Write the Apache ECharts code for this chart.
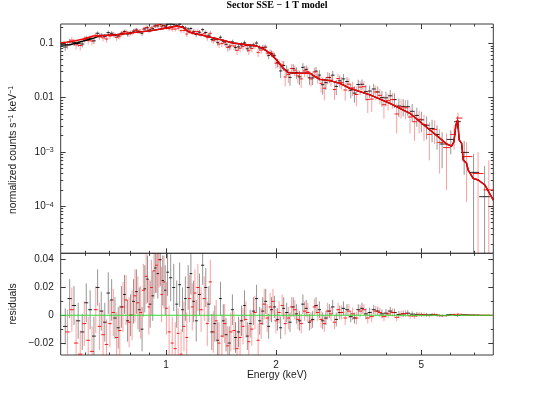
<!DOCTYPE html>
<html>
<head>
<meta charset="utf-8">
<title>Sector SSE - 1 T model</title>
<script src="https://cdn.jsdelivr.net/npm/echarts@6.0.0/dist/echarts.min.js"></script>
<style>
html, body { margin: 0; padding: 0; background: #fff; }
#chart { width: 551px; height: 409px; }
</style>
</head>
<body>
<div id="chart"></div>
<script>
// axis limits
const xMin = 0.515, xMax = 7.87;
const specMin = 1.36e-5, specMax = 0.2266;
const resMin = -0.0286, resMax = 0.0446;

// tick positions
const xMajor = [1, 2, 5];
const xMinor = [0.6, 0.7, 0.8, 0.9, 3, 4, 6, 7];
const specMajor = [1e-4, 1e-3, 1e-2, 1e-1];
const specMinor = [2e-5, 3e-5, 4e-5, 5e-5, 6e-5, 7e-5, 8e-5, 9e-5,
    2e-4, 3e-4, 4e-4, 5e-4, 6e-4, 7e-4, 8e-4, 9e-4,
    0.002, 0.003, 0.004, 0.005, 0.006, 0.007, 0.008, 0.009,
    0.02, 0.03, 0.04, 0.05, 0.06, 0.07, 0.08, 0.09, 0.2];
const resMajor = [-0.02, 0, 0.02, 0.04];
const resMinor = [-0.01, 0.01, 0.03];

// black spectrum (keV, counts/s/keV, 1 sigma, residual)
const blackE = [
    0.53, 0.545, 0.56, 0.575, 0.59, 0.605, 0.62, 0.635,
    0.65, 0.665, 0.68, 0.695, 0.71, 0.725, 0.74, 0.755,
    0.77, 0.785, 0.80, 0.815, 0.83, 0.845, 0.86, 0.875,
    0.89, 0.905, 0.92, 0.935, 0.95, 0.965, 0.98, 0.995,
    1.01, 1.03, 1.05, 1.07, 1.09, 1.11, 1.13, 1.15,
    1.17, 1.19, 1.21, 1.235, 1.26, 1.285, 1.31, 1.335,
    1.36, 1.385, 1.41, 1.435, 1.46, 1.49, 1.52, 1.55,
    1.58, 1.61, 1.64, 1.67, 1.70, 1.735, 1.77, 1.805,
    1.84, 1.875, 1.91, 1.945, 1.98, 2.02, 2.06, 2.10,
    2.14, 2.185, 2.23, 2.275, 2.32, 2.37, 2.42, 2.47,
    2.52, 2.575, 2.63, 2.685, 2.74, 2.80, 2.86, 2.925,
    2.99, 3.06, 3.13, 3.205, 3.28, 3.36, 3.44, 3.525,
    3.61, 3.705, 3.80, 3.90, 4.00, 4.11, 4.22, 4.34,
    4.46, 4.59, 4.72, 4.86, 5.00, 5.17, 5.35, 5.52,
    5.70, 6.02, 6.28, 6.55, 6.95, 7.45];
const blackRate = [
    0.0855, 0.1065, 0.104, 0.099, 0.097, 0.124, 0.124, 0.111,
    0.153, 0.141, 0.135, 0.157, 0.153, 0.141, 0.136, 0.153,
    0.165, 0.148, 0.155, 0.167, 0.176, 0.165, 0.153, 0.184,
    0.193, 0.177, 0.186, 0.209, 0.209, 0.222, 0.211, 0.207,
    0.224, 0.225, 0.223, 0.215, 0.225, 0.203, 0.192, 0.184,
    0.187, 0.163, 0.145, 0.160, 0.178, 0.158, 0.141, 0.117,
    0.119, 0.103, 0.129, 0.109, 0.096, 0.086, 0.106, 0.084,
    0.086, 0.093, 0.102, 0.079, 0.086, 0.093, 0.101, 0.082,
    0.084, 0.085, 0.060, 0.065, 0.059, 0.044, 0.031, 0.039,
    0.032, 0.0236, 0.0343, 0.0291, 0.0241, 0.0361, 0.0331, 0.0231,
    0.023, 0.0307, 0.026, 0.0173, 0.0189, 0.0235, 0.0259, 0.0161,
    0.0204, 0.0221, 0.0198, 0.0137, 0.0121, 0.0174, 0.0176, 0.0129,
    0.0132, 0.0144, 0.0127, 0.0100, 0.0099, 0.0108, 0.0092, 0.0070,
    0.0069, 0.0068, 0.0056, 0.0047, 0.0039, 0.0031, 0.0027, 0.0021,
    0.0014, 0.0017, 0.0036, 0.00098, 0.00042, 0.00015];
const blackErr = [
    0.013, 0.014, 0.014, 0.013, 0.013, 0.014, 0.014, 0.014,
    0.013, 0.014, 0.014, 0.015, 0.015, 0.015, 0.015, 0.015,
    0.014, 0.015, 0.015, 0.016, 0.016, 0.016, 0.016, 0.017,
    0.017, 0.017, 0.018, 0.018, 0.018, 0.019, 0.018, 0.018,
    0.017, 0.017, 0.017, 0.017, 0.016, 0.016, 0.016, 0.016,
    0.015, 0.015, 0.015, 0.015, 0.014, 0.014, 0.013, 0.013,
    0.013, 0.013, 0.012, 0.012, 0.012, 0.012, 0.011, 0.011,
    0.011, 0.011, 0.011, 0.010, 0.010, 0.010, 0.010, 0.010,
    0.010, 0.009, 0.009, 0.009, 0.008, 0.008, 0.008, 0.008,
    0.007, 0.007, 0.007, 0.007, 0.007, 0.007, 0.006, 0.006,
    0.006, 0.006, 0.006, 0.006, 0.005, 0.005, 0.005, 0.005,
    0.005, 0.005, 0.004, 0.004, 0.004, 0.004, 0.004, 0.004,
    0.0035, 0.0035, 0.0032, 0.0032, 0.003, 0.003, 0.0028, 0.0026,
    0.0024, 0.0022, 0.002, 0.0018, 0.0016, 0.0014, 0.0012, 0.001,
    0.0009, 0.0008, 0.0009, 0.0006, 0.0005, 0.0004];
const blackResid = [
    -0.008, 0.012, 0.007, -0.004, -0.012, 0.009, 0.004, -0.015,
    0.020, 0.003, -0.005, 0.016, 0.011, -0.002, -0.009, 0.006,
    0.015, -0.004, 0.0, 0.010, 0.017, 0.004, -0.010, 0.019,
    0.026, 0.008, 0.014, 0.034, 0.030, 0.040, 0.025, 0.018,
    0.031, 0.027, 0.020, 0.008, 0.022, 0.004, 0.012, 0.020,
    0.030, 0.010, -0.004, 0.015, 0.036, 0.020, 0.008, -0.012,
    -0.006, -0.018, 0.012, -0.004, -0.014, -0.020, 0.004, -0.016,
    -0.012, -0.004, 0.007, -0.015, -0.006, 0.003, 0.012, -0.004,
    0.003, 0.010, -0.008, 0.004, 0.006, -0.003, -0.009, 0.005,
    0.002, -0.005, 0.006, 0.001, -0.004, 0.008, 0.005, -0.005,
    -0.003, 0.007, 0.004, -0.004, -0.002, 0.003, 0.006, -0.003,
    0.002, 0.005, 0.004, -0.001, -0.002, 0.004, 0.005, 0.001,
    0.002, 0.004, 0.003, 0.001, 0.0015, 0.003, 0.002, 0.0005,
    0.001, 0.0015, 0.0008, 0.0006, 0.0005, 0.0003, 0.0004, 0.0001,
    -0.0003, 0.0004, -0.0002, 0.0003, 0.0001, -0.0001];

// red spectrum
const redE = [
    0.5375, 0.5525, 0.5675, 0.5825, 0.5975, 0.6125, 0.6275, 0.6425,
    0.6575, 0.6725, 0.6875, 0.7025, 0.7175, 0.7325, 0.7475, 0.7625,
    0.7775, 0.7925, 0.8075, 0.8225, 0.8375, 0.8525, 0.8675, 0.8825,
    0.8975, 0.9125, 0.9275, 0.9425, 0.9575, 0.9725, 0.9875, 1.0025,
    1.02, 1.04, 1.06, 1.08, 1.10, 1.12, 1.14, 1.16,
    1.18, 1.20, 1.2225, 1.2475, 1.2725, 1.2975, 1.3225, 1.3475,
    1.3725, 1.3975, 1.4225, 1.4475, 1.475, 1.505, 1.535, 1.565,
    1.595, 1.625, 1.655, 1.685, 1.7175, 1.7525, 1.7875, 1.8225,
    1.8575, 1.8925, 1.9275, 1.9625, 2.00, 2.04, 2.08, 2.12,
    2.1625, 2.2075, 2.2525, 2.2975, 2.345, 2.395, 2.445, 2.495,
    2.5475, 2.6025, 2.6575, 2.7125, 2.77, 2.83, 2.8925, 2.9575,
    3.025, 3.095, 3.1675, 3.2425, 3.32, 3.40, 3.4825, 3.5675,
    3.6575, 3.7525, 3.85, 3.95, 4.055, 4.165, 4.28, 4.40,
    4.525, 4.655, 4.79, 4.93, 5.085, 5.26, 5.435, 5.61,
    5.86, 6.15, 6.30, 6.65, 7.15, 7.65];
const redRate = [
    0.094, 0.114, 0.094, 0.091, 0.119, 0.112, 0.110, 0.141,
    0.131, 0.126, 0.120, 0.136, 0.145, 0.129, 0.136, 0.156,
    0.163, 0.150, 0.157, 0.173, 0.170, 0.165, 0.183, 0.195,
    0.175, 0.192, 0.207, 0.215, 0.222, 0.201, 0.213, 0.198,
    0.186, 0.183, 0.183, 0.190, 0.171, 0.172, 0.148, 0.169,
    0.159, 0.165, 0.165, 0.146, 0.150, 0.127, 0.153, 0.113,
    0.117, 0.097, 0.099, 0.104, 0.084, 0.090, 0.089, 0.074,
    0.081, 0.087, 0.091, 0.073, 0.080, 0.091, 0.068, 0.075,
    0.084, 0.066, 0.068, 0.063, 0.043, 0.042, 0.040, 0.024,
    0.0266, 0.0343, 0.0321, 0.0251, 0.0221, 0.0311, 0.0301, 0.022,
    0.0297, 0.024, 0.0183, 0.0149, 0.0235, 0.0209, 0.0141, 0.0224,
    0.0191, 0.0138, 0.0177, 0.0151, 0.0114, 0.0156, 0.0159, 0.0092,
    0.0094, 0.0127, 0.011, 0.0074, 0.0088, 0.0092, 0.005, 0.0067,
    0.0065, 0.0044, 0.0036, 0.0040, 0.0032, 0.0021, 0.0026, 0.0015,
    0.0012, 0.0021, 0.0042, 0.00082, 0.0004, 0.0002];
const redErr = [
    0.016, 0.016, 0.017, 0.017, 0.016, 0.017, 0.018, 0.017,
    0.017, 0.018, 0.018, 0.017, 0.017, 0.018, 0.018, 0.018,
    0.018, 0.018, 0.018, 0.019, 0.019, 0.019, 0.019, 0.020,
    0.020, 0.020, 0.020, 0.020, 0.020, 0.020, 0.019, 0.019,
    0.019, 0.019, 0.019, 0.018, 0.018, 0.018, 0.018, 0.017,
    0.017, 0.017, 0.017, 0.016, 0.016, 0.016, 0.016, 0.015,
    0.015, 0.015, 0.015, 0.014, 0.014, 0.014, 0.014, 0.013,
    0.013, 0.013, 0.013, 0.012, 0.012, 0.012, 0.012, 0.011,
    0.011, 0.010, 0.010, 0.009, 0.009, 0.008, 0.008, 0.008,
    0.008, 0.007, 0.007, 0.007, 0.007, 0.007, 0.007, 0.006,
    0.006, 0.006, 0.006, 0.006, 0.006, 0.005, 0.005, 0.005,
    0.005, 0.005, 0.005, 0.0045, 0.0045, 0.0045, 0.004, 0.004,
    0.004, 0.0038, 0.0035, 0.0033, 0.003, 0.003, 0.0028, 0.0026,
    0.0025, 0.0022, 0.002, 0.0018, 0.0016, 0.0014, 0.0012, 0.0011,
    0.001, 0.001, 0.0011, 0.0007, 0.0006, 0.0005];
const redResid = [
    -0.012, 0.004, -0.020, -0.028, -0.006, -0.018, -0.026, 0.004,
    -0.008, -0.014, -0.021, -0.006, 0.002, -0.016, -0.011, 0.006,
    0.011, -0.005, 0.0, 0.014, 0.009, 0.002, 0.018, 0.028,
    0.006, 0.020, 0.032, 0.036, 0.040, 0.015, 0.024, 0.005,
    -0.012, -0.020, -0.024, -0.013, -0.028, -0.008, -0.016, 0.012,
    0.006, 0.016, 0.020, 0.004, 0.012, -0.006, 0.024, -0.012,
    -0.004, -0.020, -0.015, -0.006, -0.022, -0.012, -0.011, -0.024,
    -0.016, -0.008, -0.003, -0.019, -0.010, 0.002, -0.018, -0.006,
    0.008, -0.002, 0.006, 0.010, -0.004, 0.002, 0.007, -0.006,
    -0.002, 0.006, 0.004, -0.003, -0.006, 0.003, 0.002, -0.004,
    0.006, 0.002, -0.003, -0.006, 0.003, 0.001, -0.005, 0.004,
    0.002, -0.002, 0.003, 0.001, -0.002, 0.003, 0.004, -0.002,
    -0.001, 0.003, 0.002, -0.001, 0.001, 0.002, -0.0015, 0.0008,
    0.0012, -0.0004, -0.0005, 0.0006, 0.0004, -0.0002, 0.0006, -0.0003,
    -0.0002, 0.0005, 0.0007, 0.0002, 0.0001, 0.0];

// folded 1T model curves
const modelE = [0.516, 0.546, 0.594, 0.632, 0.660, 0.733, 0.812, 0.904, 1.004, 1.070, 1.113, 1.149, 1.186, 1.239,
    1.435, 1.525, 1.645, 1.774, 1.843, 1.926, 2.009, 2.094, 2.161, 2.279, 2.479, 2.557, 2.639, 2.811, 2.994,
    3.188, 3.618, 4.102, 4.369, 4.653, 4.957, 5.279, 5.622, 5.865, 6.052, 6.140, 6.218, 6.284, 6.348, 6.445,
    6.510, 6.650, 6.718, 6.934, 7.156, 7.464, 7.87];
const blackModel = [0.093, 0.0942, 0.110, 0.1236, 0.138, 0.144, 0.157, 0.169, 0.191, 0.208, 0.197, 0.164, 0.153, 0.144,
    0.113, 0.1013, 0.095, 0.089, 0.080, 0.0655, 0.0493, 0.0346, 0.0288, 0.0281, 0.0281, 0.0243, 0.0217, 0.0205, 0.0183,
    0.0148, 0.0112, 0.00785, 0.00635, 0.00514, 0.0036, 0.00253, 0.00178, 0.0014, 0.00128, 0.00154, 0.00313, 0.00386, 0.00166, 0.00144,
    0.00071, 0.000616, 0.000464, 0.000327, 0.000304, 0.000246, 0.00013];
const redModel = [0.1026, 0.106, 0.120, 0.136, 0.138, 0.144, 0.157, 0.169, 0.191, 0.208, 0.197, 0.164, 0.153, 0.144,
    0.113, 0.1013, 0.095, 0.089, 0.080, 0.0655, 0.0493, 0.0346, 0.0288, 0.0281, 0.0281, 0.0243, 0.0217, 0.0205, 0.0183,
    0.0148, 0.0112, 0.00785, 0.00635, 0.00514, 0.0036, 0.00253, 0.00178, 0.0014, 0.00128, 0.00154, 0.00313, 0.00386, 0.00166, 0.00144,
    0.00071, 0.000616, 0.000464, 0.000327, 0.000304, 0.000246, 0.00013];

const frameColor = '#3a3a3a';
const textColor = '#1a1a1a';
const sans = '"Liberation Sans", Arial, sans-serif';

// [E, Elo, Ehi, y, ylo, yhi] per bin, bin edges half way to the neighbouring energies
function crosses(es, ys, errs) {
    return es.map(function (e, i) {
        const prev = i > 0 ? es[i - 1] : 2 * e - es[i + 1];
        const next = i < es.length - 1 ? es[i + 1] : 2 * e - es[i - 1];
        return [e, e - (e - prev) * 0.5, e + (next - e) * 0.5, ys[i], ys[i] - errs[i], ys[i] + errs[i]];
    });
}

function crossRenderer(color, barColor, lim) {
    return function (params, api) {
        const e = api.value(0), y = api.value(3);
        const lo = Math.max(api.value(1), xMin), hi = Math.min(api.value(2), xMax);
        const yl = Math.max(api.value(4), lim[0]), yh = Math.min(api.value(5), lim[1]);
        const children = [];
        if (yl < lim[1] && yh > lim[0]) {
            const t = api.coord([e, yh]), b = api.coord([e, yl]);
            children.push({ type: 'line', shape: { x1: t[0], y1: t[1], x2: b[0], y2: b[1] },
                style: { stroke: barColor, lineWidth: 1 } });
        }
        if (y > lim[0] && y < lim[1]) {
            const l = api.coord([lo, y]), r = api.coord([hi, y]);
            children.push({ type: 'line', shape: { x1: l[0], y1: l[1], x2: r[0], y2: r[1] },
                style: { stroke: color, lineWidth: 1 } });
        }
        return { type: 'group', children: children };
    };
}

function zip(a, b) {
    return a.map(function (v, i) { return [v, b[i]]; });
}

function xAxisDef(grid, pos, values, len, showLabel) {
    return {
        type: 'log', logBase: 10, gridIndex: grid, position: pos, min: xMin, max: xMax,
        axisLine: { show: false, onZero: false },
        splitLine: { show: false },
        axisTick: { show: true, inside: true, length: len, customValues: values,
            lineStyle: { color: frameColor, width: 1 } },
        axisLabel: showLabel ? { show: true, customValues: values, margin: 5, fontSize: 10,
            color: textColor, fontFamily: sans, formatter: function (v) { return String(v); } } : { show: false }
    };
}

function yAxisDef(grid, pos, type, min, max, values, len, formatter) {
    return {
        type: type, gridIndex: grid, position: pos, min: min, max: max,
        axisLine: { show: false, onZero: false },
        splitLine: { show: false },
        axisTick: { show: true, inside: true, length: len, customValues: values,
            lineStyle: { color: frameColor, width: 1 } },
        axisLabel: formatter ? { show: true, customValues: values, margin: 7, fontSize: 10,
            color: textColor, fontFamily: sans, formatter: formatter,
            rich: { b: { fontSize: 10, fontFamily: sans, color: textColor },
                    s: { fontSize: 7, fontFamily: sans, color: textColor, verticalAlign: 'top', lineHeight: 8 } } }
            : { show: false }
    };
}

function specLabel(v) {
    if (v >= 0.01) return String(v);
    return '{b|10}{s|\u2212' + Math.round(-Math.log10(v)) + '}';
}
function resLabel(v) {
    if (v === 0) return '0';
    return (v < 0 ? '\u2212' : '') + Math.abs(v).toFixed(2);
}

const chart = echarts.init(document.getElementById('chart'), null, { renderer: 'canvas' });

const option = {
    backgroundColor: '#ffffff',
    animation: false,
    grid: [
        { left: 60.7, top: 24, width: 432.6, height: 229.3, show: true, borderColor: frameColor, borderWidth: 1,
          backgroundColor: 'transparent', containLabel: false, outerBoundsMode: 'none' },
        { left: 60.7, top: 253.3, width: 432.6, height: 101.7, show: true, borderColor: frameColor, borderWidth: 1,
          backgroundColor: 'transparent', containLabel: false, outerBoundsMode: 'none' }
    ],
    xAxis: [
        xAxisDef(0, 'bottom', xMajor, 5, false),
        xAxisDef(0, 'bottom', xMinor, 2.5, false),
        xAxisDef(0, 'top', xMajor, 5, false),
        xAxisDef(0, 'top', xMinor, 2.5, false),
        xAxisDef(1, 'bottom', xMajor, 5, true),
        xAxisDef(1, 'bottom', xMinor, 2.5, false),
        xAxisDef(1, 'top', xMajor, 5, false),
        xAxisDef(1, 'top', xMinor, 2.5, false)
    ],
    yAxis: [
        yAxisDef(0, 'left', 'log', specMin, specMax, specMajor, 5, specLabel),
        yAxisDef(0, 'left', 'log', specMin, specMax, specMinor, 2.5, null),
        yAxisDef(0, 'right', 'log', specMin, specMax, specMajor, 5, null),
        yAxisDef(0, 'right', 'log', specMin, specMax, specMinor, 2.5, null),
        yAxisDef(1, 'left', 'value', resMin, resMax, resMajor, 5, resLabel),
        yAxisDef(1, 'left', 'value', resMin, resMax, resMinor, 2.5, null),
        yAxisDef(1, 'right', 'value', resMin, resMax, resMajor, 5, null),
        yAxisDef(1, 'right', 'value', resMin, resMax, resMinor, 2.5, null)
    ],
    graphic: [
        { type: 'text', x: 277, y: 5, silent: true,
          style: { text: 'Sector SSE \u2212 1 T model', fontSize: 10, fontWeight: 'bold',
                   fontFamily: '"Liberation Serif", "Times New Roman", serif', fill: '#000',
                   align: 'center', verticalAlign: 'middle' } },
        { type: 'text', x: 13, y: 150, rotation: Math.PI / 2, silent: true,
          style: { text: 'normalized counts s{s|\u22121} keV{s|\u22121}', fontSize: 10.3, fontFamily: sans, fill: textColor,
                   align: 'center', verticalAlign: 'middle',
                   rich: { s: { fontSize: 7, fontFamily: sans, fill: textColor, verticalAlign: 'top', lineHeight: 8 } } } },
        { type: 'text', x: 13, y: 304, rotation: Math.PI / 2, silent: true,
          style: { text: 'residuals', fontSize: 10.3, fontFamily: sans, fill: textColor,
                   align: 'center', verticalAlign: 'middle' } },
        { type: 'text', x: 277, y: 375.5, silent: true,
          style: { text: 'Energy (keV)', fontSize: 10.3, fontFamily: sans, fill: textColor,
                   align: 'center', verticalAlign: 'middle' } }
    ],
    series: [
        { type: 'custom', name: 'black data', xAxisIndex: 0, yAxisIndex: 0, silent: true, z: 2,
          renderItem: crossRenderer('rgba(0,0,0,0.85)', 'rgba(0,0,0,0.42)', [specMin, specMax]),
          encode: { x: 0, y: 3 }, data: crosses(blackE, blackRate, blackErr) },
        { type: 'custom', name: 'red data', xAxisIndex: 0, yAxisIndex: 0, silent: true, z: 2,
          renderItem: crossRenderer('rgba(255,0,0,0.9)', 'rgba(255,0,0,0.38)', [specMin, specMax]),
          encode: { x: 0, y: 3 }, data: crosses(redE, redRate, redErr) },
        { type: 'line', name: 'black model', xAxisIndex: 0, yAxisIndex: 0, silent: true, z: 3,
          symbol: 'none', lineStyle: { color: '#000', width: 1.4 }, data: zip(modelE, blackModel) },
        { type: 'line', name: 'red model', xAxisIndex: 0, yAxisIndex: 0, silent: true, z: 4,
          symbol: 'none', lineStyle: { color: '#ff0000', width: 1.4 }, data: zip(modelE, redModel) },
        { type: 'custom', name: 'black residuals', xAxisIndex: 4, yAxisIndex: 4, silent: true, z: 2,
          renderItem: crossRenderer('rgba(0,0,0,0.85)', 'rgba(0,0,0,0.42)', [resMin, resMax]),
          encode: { x: 0, y: 3 }, data: crosses(blackE, blackResid, blackErr) },
        { type: 'custom', name: 'red residuals', xAxisIndex: 4, yAxisIndex: 4, silent: true, z: 2,
          renderItem: crossRenderer('rgba(255,0,0,0.9)', 'rgba(255,0,0,0.38)', [resMin, resMax]),
          encode: { x: 0, y: 3 }, data: crosses(redE, redResid, redErr) },
        { type: 'line', name: 'zero', xAxisIndex: 4, yAxisIndex: 4, silent: true, z: 5,
          symbol: 'none', lineStyle: { color: '#33dd33', width: 1 }, data: [[xMin, 0], [xMax, 0]] }
    ]
};

chart.setOption(option);
window.addEventListener('resize', function () { chart.resize(); });
</script>
</body>
</html>
